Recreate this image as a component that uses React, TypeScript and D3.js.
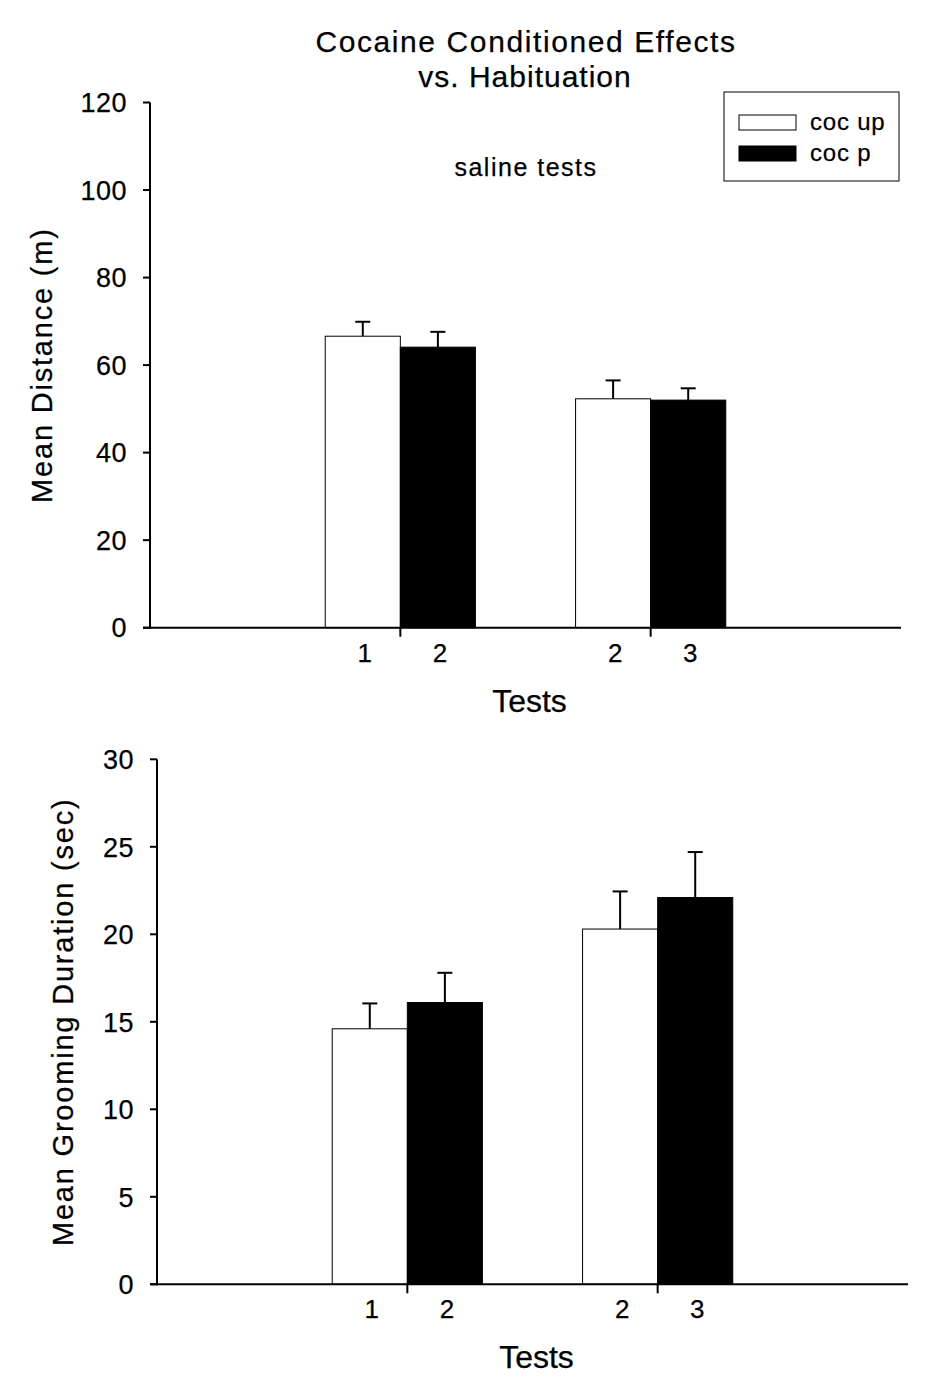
import React from "react";
import * as d3 from "d3";

const groups = [1, 2];
const tickLabelsUp = ["1", "2"];
const tickLabelsP = ["2", "3"];
const seriesNames = ["coc up", "coc p"];

const distUp = [66.6, 52.3];
const distUpErr = [3.3, 4.2];
const distP = [64.1, 52.0];
const distPErr = [3.5, 2.7];
const distTicks = [0, 20, 40, 60, 80, 100, 120];

const groomUp = [14.6, 20.3];
const groomUpErr = [1.45, 2.15];
const groomP = [16.1, 22.1];
const groomPErr = [1.7, 2.6];
const groomTicks = [0, 5, 10, 15, 20, 25, 30];

const FONT = "'Liberation Sans', Arial, Helvetica, sans-serif";
const TS = { stroke: "#000", strokeWidth: 0.25 };

type PanelProps = {
  x0: number;
  x1: number;
  yTop: number;
  yBottom: number;
  yMax: number;
  ticks: number[];
  up: number[];
  upErr: number[];
  p: number[];
  pErr: number[];
  yLabel: string;
  yLabelX: number;
};

function Panel(props: PanelProps) {
  const { x0, x1, yTop, yBottom, yMax, ticks, up, upErr, p, pErr, yLabel, yLabelX } = props;
  const x = d3.scaleLinear().domain([0, 3]).range([x0, x1]);
  const y = d3.scaleLinear().domain([0, yMax]).range([yBottom, yTop]);
  const bw = 0.3;
  const capHalf = 7.5;
  const series = [
    { vals: up, errs: upErr, fill: "#fff", off: -bw, labels: tickLabelsUp },
    { vals: p, errs: pErr, fill: "#000", off: 0, labels: tickLabelsP },
  ];
  return (
    <g>
      {series.map((s, si) =>
        groups.map((g, gi) => {
          const left = x(g + s.off);
          const right = x(g + s.off + bw);
          const cx = (left + right) / 2;
          const top = y(s.vals[gi]);
          const et = y(s.vals[gi] + s.errs[gi]);
          return (
            <g key={`${si}-${gi}`}>
              <line x1={cx} x2={cx} y1={top} y2={et} stroke="#000" strokeWidth={2} />
              <line x1={cx - capHalf} x2={cx + capHalf} y1={et} y2={et} stroke="#000" strokeWidth={2} />
              <rect
                x={left}
                y={top}
                width={right - left}
                height={yBottom - top}
                fill={s.fill}
                stroke="#000"
                strokeWidth={1}
              />
            </g>
          );
        })
      )}
      {/* y axis */}
      <line x1={x0} x2={x0} y1={y(yMax)} y2={yBottom + 1} stroke="#000" strokeWidth={2} />
      {ticks.map((t) => (
        <g key={t}>
          <line x1={x0 - 7} x2={x0} y1={y(t)} y2={y(t)} stroke="#000" strokeWidth={2} />
          <text
            x={x0 - 23}
            y={y(t)}
            dy="0.36em"
            textAnchor="end"
            fontSize={27}
            fontFamily={FONT}
            letterSpacing={0.5}
            {...TS}
          >
            {t}
          </text>
        </g>
      ))}
      {/* x axis */}
      <line x1={x0 - 7} x2={x1} y1={yBottom} y2={yBottom} stroke="#000" strokeWidth={2} />
      {groups.map((g, gi) => (
        <g key={g}>
          <line x1={x(g)} x2={x(g)} y1={yBottom} y2={yBottom + 9} stroke="#000" strokeWidth={2} />
          {series.map((s, si) => (
            <text
              key={si}
              x={x(g + s.off + bw / 2) + 2}
              y={yBottom + 34}
              textAnchor="middle"
              fontSize={26}
              fontFamily={FONT}
              {...TS}
            >
              {s.labels[gi]}
            </text>
          ))}
        </g>
      ))}
      <text
        x={(x0 + x1) / 2 + 4}
        y={yBottom + 84}
        textAnchor="middle"
        fontSize={32}
        fontFamily={FONT}
        {...TS}
      >
        Tests
      </text>
      <text
        transform={`translate(${yLabelX},${(yTop + yBottom) / 2}) rotate(-90)`}
        textAnchor="middle"
        fontSize={29}
        fontFamily={FONT}
        letterSpacing={1.8}
        {...TS}
      >
        {yLabel}
      </text>
    </g>
  );
}

export default function App() {
  return (
    <svg
      width={946}
      height={1396}
      style={{ position: "absolute", left: 0, top: 0, background: "#fff" }}
    >
      <rect x={0} y={0} width={946} height={1396} fill="#fff" />
      <text x={526} y={52} textAnchor="middle" fontSize={30} fontFamily={FONT} letterSpacing={1.6} {...TS}>
        Cocaine Conditioned Effects
      </text>
      <text x={525} y={87} textAnchor="middle" fontSize={30} fontFamily={FONT} letterSpacing={1} {...TS}>
        vs. Habituation
      </text>
      <text x={526} y={176} textAnchor="middle" fontSize={25} fontFamily={FONT} letterSpacing={1.5} {...TS}>
        saline tests
      </text>
      {/* legend */}
      <rect x={724} y={92} width={175} height={89} fill="#fff" stroke="#000" strokeWidth={1} />
      {seriesNames.map((n, i) => (
        <g key={n}>
          <rect
            x={739}
            y={115 + i * 31}
            width={57}
            height={15}
            fill={i === 0 ? "#fff" : "#000"}
            stroke="#000"
            strokeWidth={1}
          />
          <text x={810} y={130 + i * 31} fontSize={24} fontFamily={FONT} letterSpacing={0.8} {...TS}>
            {n}
          </text>
        </g>
      ))}
      <Panel
        x0={150}
        x1={901}
        yTop={102.5}
        yBottom={627.7}
        yMax={120}
        ticks={distTicks}
        up={distUp}
        upErr={distUpErr}
        p={distP}
        pErr={distPErr}
        yLabel="Mean Distance (m)"
        yLabelX={52}
      />
      <Panel
        x0={157}
        x1={908}
        yTop={759.3}
        yBottom={1284.3}
        yMax={30}
        ticks={groomTicks}
        up={groomUp}
        upErr={groomUpErr}
        p={groomP}
        pErr={groomPErr}
        yLabel="Mean Grooming Duration (sec)"
        yLabelX={73}
      />
    </svg>
  );
}
